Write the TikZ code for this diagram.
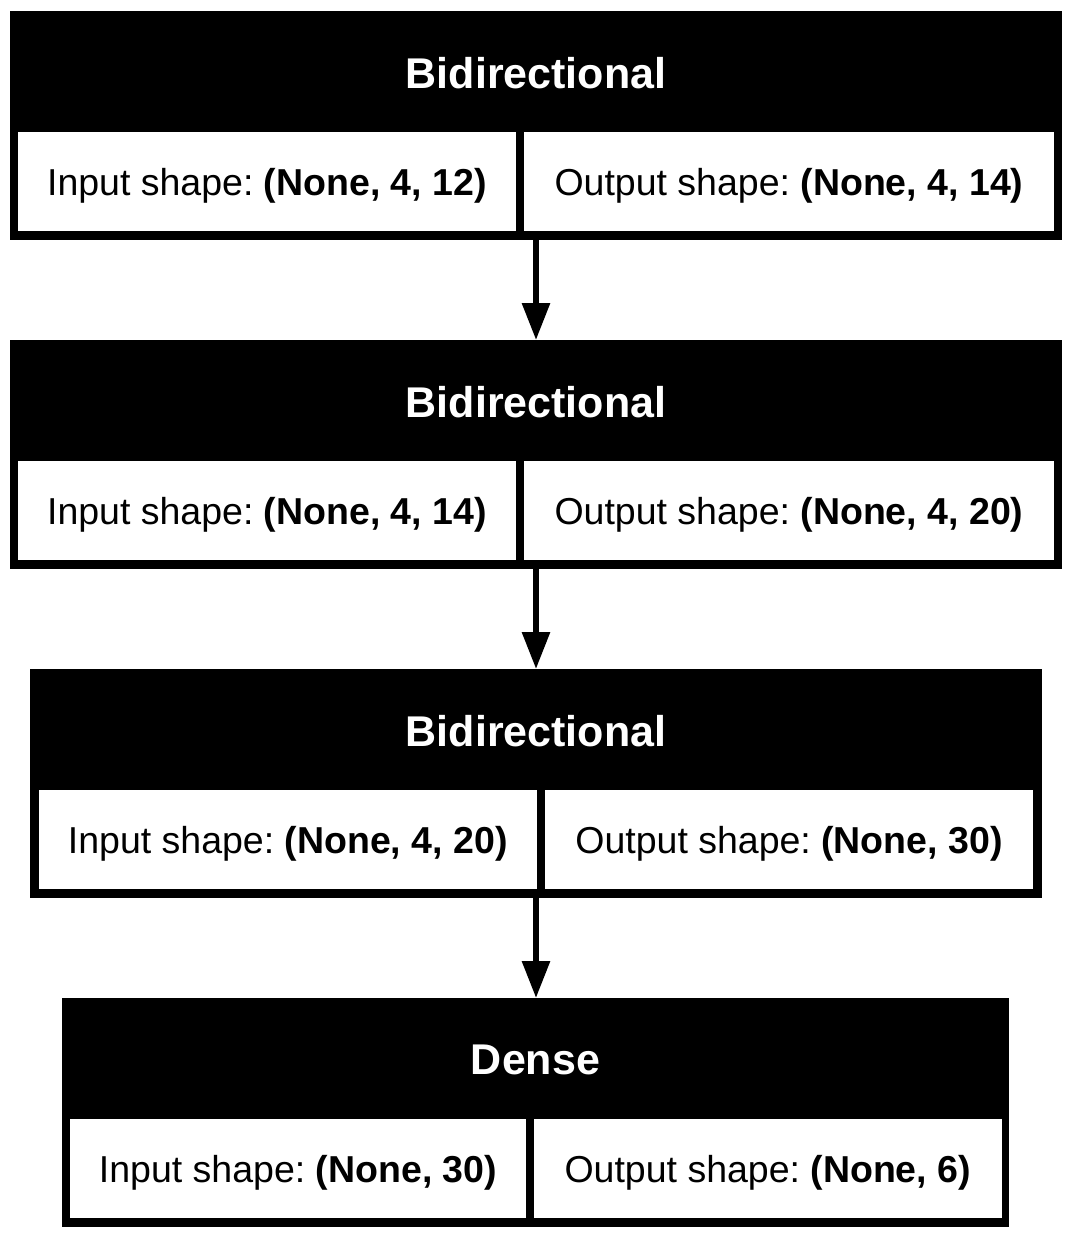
\documentclass[tikz,border=0pt]{standalone}
\usepackage{fontspec}
\setmainfont{Liberation Sans}
\usetikzlibrary{arrows.meta}
\frenchspacing
\tikzset{
  outerbox/.style={rectangle, fill=black, draw=none, inner sep=0pt, outer sep=0pt},
  cellbox/.style={rectangle, fill=white, draw=none, inner sep=0pt, outer sep=0pt, minimum height=99pt, text height=28pt, text depth=0pt, font=\fontsize{37.5}{45}\selectfont},
  titletext/.style={inner sep=0pt, text=white, font=\fontsize{43}{50}\selectfont\bfseries},
  conn/.style={line width=6pt, -{Triangle[width=27pt,length=37pt]}}
}
\begin{document}
\begin{tikzpicture}[x=1pt,y=-1pt]
\fill[white] (0,0) rectangle (1072,1239);
\useasboundingbox (0,0) rectangle (1072,1239);
% Layer 1
\node[outerbox, minimum width=1052pt, minimum height=229pt] (L1) at (536,125.5) {};
\node[titletext] (L1t) at (536,73) {Bidirectional};
\node[cellbox, minimum width=498pt] (L1i) at (267,181.5) {Input shape: \textbf{(None, 4, 12)}};
\node[cellbox, minimum width=530pt] (L1o) at (789,181.5) {Output shape: \textbf{(None, 4, 14)}};
% Layer 2
\node[outerbox, minimum width=1052pt, minimum height=229pt] (L2) at (536,454.5) {};
\node[titletext] (L2t) at (536,402) {Bidirectional};
\node[cellbox, minimum width=498pt] (L2i) at (267,510.5) {Input shape: \textbf{(None, 4, 14)}};
\node[cellbox, minimum width=530pt] (L2o) at (789,510.5) {Output shape: \textbf{(None, 4, 20)}};
% Layer 3
\node[outerbox, minimum width=1012pt, minimum height=229pt] (L3) at (536,783.5) {};
\node[titletext] (L3t) at (536,731) {Bidirectional};
\node[cellbox, minimum width=498pt] (L3i) at (287.8,839.5) {Input shape: \textbf{(None, 4, 20)}};
\node[cellbox, minimum width=488pt] (L3o) at (789,839.5) {Output shape: \textbf{(None, 30)}};
% Layer 4
\node[outerbox, minimum width=947pt, minimum height=229pt] (L4) at (535.5,1112.5) {};
\node[titletext] (L4t) at (535.5,1060) {Dense};
\node[cellbox, minimum width=456pt] (L4i) at (298,1168.5) {Input shape: \textbf{(None, 30)}};
\node[cellbox, minimum width=467.5pt] (L4o) at (767.75,1168.5) {Output shape: \textbf{(None, 6)}};
% connectors
\draw[conn] (L1.south) -- (L2.north);
\draw[conn] (L2.south) -- (L3.north);
\draw[conn] (L3.south) -- (L3.south |- L4.north);
\end{tikzpicture}
\end{document}
